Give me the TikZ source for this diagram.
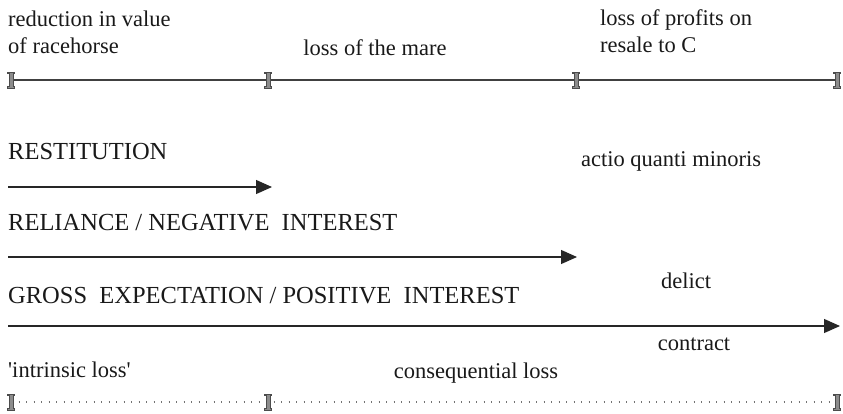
\documentclass[tikz,border=0pt]{standalone}
\usepackage{fontspec}
\setmainfont{Liberation Serif}
\usetikzlibrary{arrows.meta}
\tikzset{
  lbl/.style={inner sep=0pt, font=\fontsize{22.5}{27}\selectfont, text=black!90},
  caps/.style={inner sep=0pt, font=\fontsize{24.5}{27}\selectfont, text=black!90},
  axis/.style={line width=1.3pt, draw=black!75},
  dotline/.style={line width=1.1pt, draw=black!55, dash pattern=on 1pt off 6.5pt},
  arr/.style={line width=1.2pt, draw=black!85, -{Triangle[length=16pt,width=14pt]}},
  tickmark/.pic={\filldraw[fill=black!45, draw=black!70, line width=0.6pt]
     (-3.5,-8) -- (3.5,-8) -- (3.5,-6.5) -- (2,-6.5) -- (2,6.5) -- (3.5,6.5) -- (3.5,8)
     -- (-3.5,8) -- (-3.5,6.5) -- (-2,6.5) -- (-2,-6.5) -- (-3.5,-6.5) -- cycle;}
}
\begin{document}
\begin{tikzpicture}[x=1pt,y=-1pt]
\useasboundingbox (0,0) rectangle (843,413);
% top axis
\coordinate (t1) at (11,80);
\coordinate (t2) at (268,80);
\coordinate (t3) at (576,80);
\coordinate (t4) at (837,80);
\draw[axis] (t1) -- (t2) -- (t3) -- (t4);
\foreach \p in {t1,t2,t3,t4} \pic at (\p) {tickmark};
\node[lbl, anchor=base west] (r1) at (8,26) {reduction in value};
\node[lbl, anchor=base west] (r2) at (8,53) {of racehorse};
\node[lbl, anchor=base] (mare) at (375,55) {loss of the mare};
\node[lbl, anchor=base west] (p1) at (600,25) {loss of profits on};
\node[lbl, anchor=base west] (p2) at (600,52) {resale to C};
% arrows
\node[caps, anchor=base west] (rest) at (8,159) {RESTITUTION};
\coordinate (a1s) at (8,187);
\coordinate (a1e) at (272,187);
\draw[arr] (a1s) -- (a1e);
\node[lbl, anchor=base] (aqm) at (671,166) {actio quanti minoris};
\node[caps, anchor=base west] (rel) at (8,230) {RELIANCE / NEGATIVE\ \ INTEREST};
\coordinate (a2s) at (8,257);
\coordinate (a2e) at (577,257);
\draw[arr] (a2s) -- (a2e);
\node[lbl, anchor=base] (del) at (686,288) {delict};
\node[caps, anchor=base west] (gross) at (8,303) {GROSS\ \ EXPECTATION / POSITIVE\ \ INTEREST};
\coordinate (a3s) at (8,326);
\coordinate (a3e) at (840,326);
\draw[arr] (a3s) -- (a3e);
\node[lbl, anchor=base] (con) at (694,350) {contract};
% bottom axis
\node[lbl, anchor=base west] (intr) at (8,377) {\textquotesingle intrinsic loss\textquotesingle};
\node[lbl, anchor=base] (cons) at (476,378) {consequential loss};
\coordinate (b1) at (11,402);
\coordinate (b2) at (268,402);
\coordinate (b3) at (837,402);
\draw[dotline] (b1) -- (b2) -- (b3);
\foreach \p in {b1,b2,b3} \pic at (\p) {tickmark};
\end{tikzpicture}
\end{document}
